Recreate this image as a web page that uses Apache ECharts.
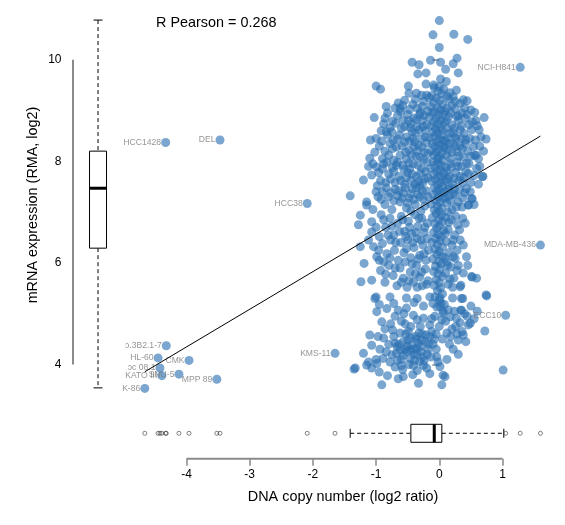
<!DOCTYPE html>
<html><head><meta charset="utf-8">
<script src="https://cdn.jsdelivr.net/npm/echarts@6/dist/echarts.min.js"></script>
<style>html,body{margin:0;padding:0;background:#fff}#c{width:565px;height:525px}</style>
</head><body><div id="c"></div>
<script>
// ---------- data ----------
const xTicks = [-4, -3, -2, -1, 0, 1];
const yTicks = [4, 6, 8, 10];
const xTitle = 'DNA copy number (log2 ratio)';
const yTitle = 'mRNA expression (RMA, log2)';
const pearsonR = 0.268;
const fitIntercept = 7.31;
const fitSlope = 0.741;
// boxplot stats: [lower whisker, Q1, median, Q3, upper whisker]
const expressionBox = [3.54, 6.29, 7.47, 8.20, 10.78];
const copyNumberBox = [-1.41, -0.45, -0.08, 0.04, 1.02];

const labeledNames = ['NCI-H841', 'HCC1428', 'DEL', 'HCC38', 'MDA-MB-436', 'ECC10', 'KMS-11',
  'ɔ.3B2.1-7', 'HL-60', 'CMK', 'ɔc 08.1', 'KATO III', 'SNU-5', 'MPP 89', 'K-86'];
const labeledCopy = [1.28, -4.33, -3.47, -2.09, 1.60, 1.05, -1.65,
  -4.32, -4.45, -3.96, -4.42, -4.39, -4.12, -3.52, -4.66];
const labeledExpr = [9.85, 8.37, 8.42, 7.17, 6.35, 4.97, 4.22,
  4.37, 4.13, 4.08, 3.93, 3.78, 3.81, 3.71, 3.53];

const topPoints = [[0.00,10.77],[-0.10,10.49],[0.23,10.50],[0.45,10.40],[0.00,10.24],[-0.43,9.95],[-0.32,9.90],[-0.14,9.99],[0.02,9.95],[0.22,9.92],[0.28,10.03],[0.10,9.81],[0.30,9.74],[-0.34,9.72],[-0.21,9.74],[-1.00,9.48],[-0.93,9.42],[-0.49,9.48],[0.02,9.62],[0.11,9.57],[-0.21,9.52],[-0.09,9.50],[0.27,9.40],[-0.48,9.34],[-0.36,9.34],[-0.28,9.30],[0.00,9.47],[0.07,9.42],[0.22,9.27],[0.38,9.21],[0.44,9.19],[-0.62,9.04]];

const columnPoints = [[-0.08,9.45],[-0.02,9.38],[0.04,9.33],[-0.12,9.29],[-0.05,9.24],[0.01,9.20],[-0.09,9.15],[0.05,9.12],[-0.14,9.08],[-0.03,9.06],[0.02,9.01],[-0.07,8.98],
[-0.11,8.95],[0.06,8.93],[-0.01,8.90],[-0.16,8.87],[-0.05,8.84],[0.03,8.81],[-0.09,8.78],[0.08,8.76],[-0.02,8.73],[-0.13,8.70],[0.01,8.67],[-0.06,8.64],[0.05,8.61],[-0.10,8.58],[-0.03,8.55],[0.03,8.52],
[-0.08,8.49],[-0.15,8.46],[0.00,8.44],[0.06,8.41],[-0.04,8.38],[-0.11,8.35],[0.02,8.32],[-0.07,8.29],[0.07,8.27],[-0.01,8.24],[-0.13,8.21],[-0.05,8.18],[0.04,8.15],[-0.09,8.12],[0.00,8.09],[-0.03,8.05],[0.05,8.02],
[-0.10,7.99],[-0.02,7.96],[0.03,7.92],[-0.07,7.89],[-0.14,7.86],[0.01,7.83],[-0.04,7.80],[0.07,7.77],[-0.09,7.74],[-0.01,7.71],[0.04,7.68],[-0.06,7.64],[-0.12,7.61],[0.02,7.58],[-0.03,7.54],[0.05,7.51],
[-0.08,7.48],[0.00,7.45],[-0.04,7.41],[0.03,7.37],[-0.10,7.34],[-0.02,7.30],[0.06,7.27],[-0.06,7.23],[0.01,7.19],[-0.13,7.16],[-0.03,7.12],[0.04,7.08],[-0.08,7.04],[0.00,7.01],
[-0.05,6.97],[0.03,6.93],[-0.11,6.89],[-0.01,6.85],[0.05,6.81],[-0.07,6.77],[0.00,6.73],[-0.04,6.68],[0.07,6.64],[-0.09,6.60],[-0.02,6.56],[0.03,6.52],
[-0.06,6.48],[0.01,6.44],[-0.12,6.40],[-0.03,6.36],[0.05,6.31],[-0.07,6.27],[0.00,6.22],[-0.04,6.17],[0.04,6.13],[-0.10,6.08],[-0.01,6.03],
[0.03,5.98],[-0.06,5.93],[0.01,5.88],[-0.09,5.83],[-0.02,5.78],[0.05,5.73],[-0.05,5.67],[0.00,5.61],[-0.08,5.56],[0.02,5.51],
[-0.03,5.45],[0.05,5.39],[-0.07,5.33],[0.00,5.27],[0.03,5.20],[-0.04,5.13],[0.06,5.05]];

const upperPoints = [[-0.61,8.98],[-0.74,8.79],[-0.57,8.81],[-0.40,8.85],[-0.30,8.96],[-0.18,8.99],[0.25,9.03],[0.50,9.01],[0.56,8.96],[0.71,8.86],[0.41,8.85],[-1.03,8.86],[-1.09,8.42],[-0.75,8.58],[-0.60,8.65],[-0.46,8.66],[-0.73,8.42],[-0.52,8.48],[0.33,8.62],[0.51,8.62],[0.63,8.62],[0.74,8.44],[0.27,8.45],[0.42,8.42],[0.54,8.29],[-1.10,8.06],[-0.99,7.89],[-1.07,7.73],[-1.20,7.63],[-1.41,7.32],[0.56,8.12],[0.43,7.96],[0.59,7.86],[0.69,7.70],[0.46,7.76],[0.51,7.27],[0.25,7.34],[-1.15,7.20],[-0.97,7.30],[0.58,8.12],[0.52,7.26],[0.68,7.70],
[-0.55,9.20],[-0.42,9.12],[-0.25,9.18],[0.15,9.22],[0.20,9.10],[0.33,9.14],[-0.35,9.05],[0.12,9.05],[-0.20,9.30],[0.17,9.35],[-0.65,9.15],[-0.84,9.08],
[-0.88,8.74],[-0.66,8.90],[-0.50,8.92],[-0.45,8.74],[-0.35,8.68],[-0.27,8.80],[-0.22,8.60],[0.15,8.88],[0.20,8.72],[0.30,8.80],[0.36,8.95],[0.12,8.65],[0.22,8.56],[0.47,8.72],[0.58,8.80],[-0.92,8.60],[-0.82,8.52],[-0.38,8.55],[-0.31,8.92],[0.09,8.98],[0.16,8.55],[-0.26,8.68],
[-0.95,8.30],[-0.86,8.20],[-0.78,8.35],[-0.68,8.28],[-0.62,8.12],[-0.55,8.38],[-0.48,8.22],[-0.42,8.45],[-0.37,8.10],[-0.33,8.32],[-0.28,8.45],[-0.24,8.18],[-0.20,8.36],[0.10,8.40],[0.14,8.22],[0.18,8.05],[0.22,8.34],[0.28,8.18],[0.33,8.30],[0.38,8.08],[0.45,8.20],[0.48,8.45],[0.64,8.30],[-0.90,8.05],[-1.02,8.18],[-0.72,8.02],[-0.52,8.05],[-0.40,8.28],[0.11,8.12],[0.25,8.48],[-0.25,8.03],[0.35,8.45],
[-0.93,7.62],[-0.88,7.95],[-0.80,7.75],[-0.74,7.88],[-0.70,7.58],[-0.64,7.70],[-0.58,7.92],[-0.55,7.55],[-0.50,7.78],[-0.45,7.62],[-0.41,7.95],[-0.36,7.70],[-0.31,7.52],[-0.28,7.86],[-0.23,7.65],[-0.19,7.98],[0.10,7.88],[0.13,7.66],[0.17,7.95],[0.21,7.55],[0.26,7.78],[0.31,7.62],[0.35,7.90],[0.39,7.68],[0.50,7.58],[0.62,7.55],[-1.12,7.90],[-0.98,7.52],[-0.66,7.98],[-0.47,7.85],[-0.33,7.60],[0.15,7.52],[0.28,7.98],[-0.85,7.58],
[-1.05,7.05],[-0.90,7.40],[-0.86,7.15],[-0.80,7.30],[-0.75,7.05],[-0.70,7.45],[-0.62,7.20],[-0.57,7.38],[-0.52,7.08],[-0.48,7.28],[-0.43,7.46],[-0.38,7.15],[-0.34,7.35],[-0.29,7.02],[-0.25,7.25],[-0.21,7.42],[0.09,7.40],[0.12,7.18],[0.16,7.32],[0.20,7.05],[0.24,7.46],[0.30,7.20],[0.36,7.10],[0.40,7.38],[0.46,7.14],[-0.66,7.32],[-0.45,7.02],[0.14,7.00]];

const upperExtra = [[-0.82,8.95],[-0.70,9.05],[-0.58,9.10],[-0.47,9.02],[-0.38,9.22],[-0.27,9.08],[-0.16,9.25],[0.12,9.28],[0.25,9.18],[0.30,8.90],[0.40,9.05],
[-0.86,8.85],[-0.78,8.66],[-0.69,8.75],[-0.63,8.52],[-0.55,8.68],[-0.49,8.80],[-0.43,8.58],[-0.36,8.82],[-0.32,8.62],[-0.24,8.90],[-0.20,8.72],[0.11,8.80],[0.18,8.95],[0.24,8.65],[0.28,8.88],[0.35,8.70],[0.39,8.55],[0.44,8.92],[0.52,8.78],[0.60,8.70],[0.66,8.48],
[-1.00,8.45],[-0.91,8.40],[-0.84,8.58],[-0.80,8.12],[-0.74,8.25],[-0.66,8.44],[-0.59,8.30],[-0.53,8.18],[-0.47,8.40],[-0.44,8.12],[-0.39,8.38],[-0.35,8.20],[-0.30,8.08],[-0.27,8.28],[-0.22,8.48],[-0.18,8.15],[0.09,8.28],[0.13,8.46],[0.16,8.35],[0.20,8.18],[0.26,8.30],[0.31,8.10],[0.36,8.25],[0.41,8.35],[0.50,8.10],[0.57,8.42],[0.62,8.05],[0.70,8.20],
[-1.05,7.95],[-0.96,7.78],[-0.90,7.85],[-0.83,7.98],[-0.77,7.65],[-0.72,7.80],[-0.68,7.92],[-0.61,7.62],[-0.56,7.84],[-0.52,7.68],[-0.48,7.96],[-0.43,7.75],[-0.39,7.55],[-0.34,7.92],[-0.30,7.76],[-0.26,7.58],[-0.22,7.80],[-0.18,7.68],[0.09,7.62],[0.12,7.80],[0.16,7.70],[0.19,7.88],[0.23,7.66],[0.29,7.90],[0.33,7.70],[0.37,7.58],[0.42,7.80],[0.47,7.95],[0.55,7.72],[0.64,7.90],
[-1.00,7.40],[-0.92,7.25],[-0.84,7.48],[-0.77,7.38],[-0.72,7.22],[-0.64,7.42],[-0.59,7.28],[-0.54,7.48],[-0.50,7.18],[-0.45,7.36],[-0.40,7.25],[-0.36,7.48],[-0.31,7.30],[-0.27,7.42],[-0.23,7.12],[-0.18,7.30],[0.10,7.28],[0.14,7.45],[0.18,7.22],[0.22,7.36],[0.27,7.10],[0.32,7.44],[0.37,7.28],[0.43,7.46],[0.49,7.40],[0.55,7.15]];

const middlePoints = [[-1.15,7.14],[-1.25,6.94],[-1.28,6.75],[-1.07,6.81],[-1.07,6.61],[-1.25,6.32],[-1.04,6.32],[-0.99,6.12],[-1.19,5.99],[-1.24,5.63],[-1.07,5.66],[-1.00,5.33],[0.46,7.14],[0.41,6.78],[0.33,6.45],[0.38,6.35],[0.43,6.12],[0.25,6.09],[0.51,5.73],[0.59,5.70],[0.33,5.53],[0.74,5.37],[0.52,5.72],[0.34,5.56],[0.35,5.30],[0.34,5.07],
[-0.92,6.95],[-0.85,6.70],[-0.78,6.88],[-0.72,6.55],[-0.66,6.78],[-0.60,6.92],[-0.55,6.62],[-0.49,6.82],[-0.44,6.58],[-0.39,6.95],[-0.34,6.72],[-0.28,6.88],[-0.24,6.60],[-0.19,6.78],[0.10,6.90],[0.14,6.66],[0.19,6.85],[0.24,6.55],[0.29,6.75],[-0.95,6.52],
[-0.90,6.38],[-0.83,6.18],[-0.77,6.45],[-0.71,6.25],[-0.65,6.05],[-0.61,6.40],[-0.56,6.20],[-0.50,6.45],[-0.45,6.10],[-0.40,6.30],[-0.35,6.48],[-0.31,6.15],[-0.26,6.35],[-0.21,6.05],[-0.17,6.25],[0.11,6.42],[0.15,6.20],[0.20,6.35],[0.28,6.25],[-0.88,6.02],[-0.52,6.28],[0.12,6.02],
[-0.93,5.85],[-0.86,5.62],[-0.80,5.95],[-0.73,5.75],[-0.67,5.55],[-0.62,5.90],[-0.57,5.70],[-0.51,5.52],[-0.46,5.82],[-0.41,5.62],[-0.36,5.95],[-0.31,5.72],[-0.27,5.55],[-0.22,5.88],[-0.18,5.65],[0.10,5.80],[0.14,5.58],[0.18,5.92],[0.23,5.70],[0.28,5.85],[-0.35,5.52],[0.21,5.52]];

const middleExtra = [[-1.12,6.45],[-1.00,6.70],[-0.96,6.25],[-0.88,6.85],[-0.81,6.55],[-0.75,6.72],[-0.69,6.40],[-0.63,6.62],[-0.58,6.85],[-0.53,6.52],[-0.47,6.70],[-0.42,6.40],[-0.37,6.60],[-0.32,6.88],[-0.29,6.45],[-0.23,6.70],[-0.19,6.48],[0.10,6.58],[0.15,6.80],[0.22,6.45],[0.26,6.92],[0.32,6.65],[0.37,6.88],
[-0.95,6.05],[-0.85,5.78],[-0.78,6.10],[-0.70,5.90],[-0.60,5.62],[-0.54,6.02],[-0.48,5.65],[-0.43,5.98],[-0.38,5.78],[-0.33,6.08],[-0.28,5.82],[-0.24,6.18],[-0.20,5.58],[0.09,6.10],[0.13,5.95],[0.17,5.68],[0.22,6.12],[0.30,5.95],[0.38,5.80],[0.45,5.95]];

const bottomPoints = [[-1.02,5.30],[-0.78,5.33],[-0.52,5.31],[-0.35,5.30],[-0.15,5.33],[0.01,5.31],[0.21,5.31],[0.37,5.30],[0.75,5.35],
[-0.99,5.04],[-0.91,4.84],[-0.65,5.07],[0.72,4.66],[-1.10,4.58],[-1.07,4.38],[-1.20,4.22],[-1.33,3.93],[1.01,3.89],[-0.91,3.60],[-0.57,3.76],[-0.33,3.63],[0.04,3.60],[0.09,3.76],[-1.35,3.91],
[-0.52,5.11],[-0.41,4.97],[-0.25,4.91],[-0.15,4.78],[0.01,5.14],[0.06,5.01],[0.17,4.94],[0.27,4.91],[0.35,5.07],[0.46,4.78],[0.38,4.58],[0.30,4.48],[0.49,4.81],[-1.15,3.99],[-1.07,3.93],[-0.99,4.02],[-0.89,4.12],[-0.75,4.19],[-0.67,4.35],[-0.57,4.45],[-0.52,4.25],[-0.46,4.12],[-0.36,4.32],[-0.31,4.06],[-0.20,3.93],[-0.04,4.15],[0.01,3.96],[0.06,3.79],
[-0.80,4.40],[-0.72,4.55],[-0.68,4.22],[-0.62,4.62],[-0.60,4.10],[-0.55,4.30],[-0.50,4.48],[-0.48,4.00],[-0.44,4.38],[-0.40,4.20],[-0.38,4.55],[-0.33,4.42],[-0.29,4.25],[-0.27,4.60],[-0.24,4.08],[-0.22,4.45],[-0.18,4.30],[-0.15,4.55],[-0.13,4.15],[-0.10,4.40],[-0.84,4.25],[-0.78,4.05],[-0.70,3.95],[-0.64,4.40],[-0.58,3.90],[-0.53,4.60],[-0.46,4.28],[-0.41,3.98],[-0.36,4.50],[-0.30,4.35],[-0.25,3.98],[-0.19,4.20],[-0.94,4.30],[-0.97,4.55],[-0.86,4.70],[-0.77,4.80],[-0.70,4.95],[-0.60,4.85],[-0.45,4.75],[-0.35,4.88],[-0.56,5.00],[-0.83,5.10],[-0.05,4.60],[0.00,4.75],[0.05,4.50],[0.10,4.85],[0.12,4.62],[0.16,4.40],[0.20,4.70],[0.24,5.05],[0.28,4.60],[0.33,4.82],[0.40,5.00],[0.42,4.45],[0.55,4.90],[0.60,5.05],[0.22,4.30],[-0.07,4.95],[0.08,5.18],[-0.25,5.15],[-0.10,5.20],[-1.00,4.10],[-1.12,4.05],[-0.95,3.85],[-0.82,3.78],[-0.65,3.72],[-0.42,3.80],[-0.15,3.82],[-0.05,4.30],[0.30,4.20]];

const bottomExtra = [[-0.88,4.52],[-0.74,4.68],[-0.66,4.08],[-0.62,4.28],[-0.57,4.18],[-0.51,4.36],[-0.49,4.65],[-0.45,4.52],[-0.42,4.30],[-0.39,4.08],[-0.35,4.20],[-0.32,4.62],[-0.28,4.48],[-0.26,4.15],[-0.21,4.58],[-0.17,4.40],[-0.12,4.65],[-0.08,4.50],[-0.70,4.42],[-0.54,4.80],[-0.30,4.75],[-0.12,4.90],[0.04,4.88],[0.14,5.08],[0.18,4.55],[0.26,4.75],[0.36,4.65],[0.44,4.95],[0.50,5.15],[-0.95,5.18],[-0.72,5.20],[-0.40,5.22],[-0.02,4.05],[0.12,4.10],[-0.60,3.98],[-0.35,3.88]];

// ---------- build ----------
const cloud = [].concat(topPoints, columnPoints, upperPoints, upperExtra, middlePoints, middleExtra, bottomPoints, bottomExtra);
const labeled = labeledNames.map((n, i) => ({ name: n, value: [labeledCopy[i], labeledExpr[i]] }));
const allX = cloud.map(p => p[0]).concat(labeledCopy);
const xMinData = Math.min(...allX), xMaxData = Math.max(...allX);
const fitLine = [[xMinData, fitIntercept + fitSlope * xMinData], [xMaxData, fitIntercept + fitSlope * xMaxData]];
const copyOutliers = allX.filter(v => v < copyNumberBox[0] || v > copyNumberBox[4]);

const FONT = "'Liberation Sans', Arial, Helvetica, sans-serif";
const dotColor = 'rgba(44,112,178,0.78)';
const axisGray = '#8a8a8a';
// layout positions (data units of the frame)
const yAxisLineX = -5.796, xAxisLineY = 2.146;
const exprBoxX = -5.40, copyBoxY = 2.646;

function vBox(params, api) {
  const s = expressionBox;
  const c = v => api.coord([exprBoxX, v]);
  const cx = c(s[2])[0], hw = 8.5, cap = 4.5;
  const lo = c(s[0])[1], q1 = c(s[1])[1], md = c(s[2])[1], q3 = c(s[3])[1], hi = c(s[4])[1];
  const solid = { stroke: '#000', lineWidth: 1 };
  const dash = { stroke: '#000', lineWidth: 1, lineDash: [4, 3] };
  return { type: 'group', children: [
    { type: 'line', shape: { x1: cx, y1: hi, x2: cx, y2: q3 }, style: dash },
    { type: 'line', shape: { x1: cx, y1: q1, x2: cx, y2: lo }, style: dash },
    { type: 'line', shape: { x1: cx - cap, y1: hi, x2: cx + cap, y2: hi }, style: solid },
    { type: 'line', shape: { x1: cx - cap, y1: lo, x2: cx + cap, y2: lo }, style: solid },
    { type: 'rect', shape: { x: cx - hw, y: q3, width: 2 * hw, height: q1 - q3 }, style: { fill: '#fff', stroke: '#000', lineWidth: 1 } },
    { type: 'line', shape: { x1: cx - hw, y1: md, x2: cx + hw, y2: md }, style: { stroke: '#000', lineWidth: 3 } }
  ]};
}
function hBox(params, api) {
  const s = copyNumberBox;
  const c = v => api.coord([v, copyBoxY]);
  const cy = c(s[2])[1], hh = 9, cap = 4.5;
  const lo = c(s[0])[0], q1 = c(s[1])[0], md = c(s[2])[0], q3 = c(s[3])[0], hi = c(s[4])[0];
  const solid = { stroke: '#000', lineWidth: 1 };
  const dash = { stroke: '#000', lineWidth: 1, lineDash: [4, 3] };
  return { type: 'group', children: [
    { type: 'line', shape: { x1: lo, y1: cy, x2: q1, y2: cy }, style: dash },
    { type: 'line', shape: { x1: q3, y1: cy, x2: hi, y2: cy }, style: dash },
    { type: 'line', shape: { x1: lo, y1: cy - cap, x2: lo, y2: cy + cap }, style: solid },
    { type: 'line', shape: { x1: hi, y1: cy - cap, x2: hi, y2: cy + cap }, style: solid },
    { type: 'rect', shape: { x: q1, y: cy - hh, width: q3 - q1, height: 2 * hh }, style: { fill: '#fff', stroke: '#000', lineWidth: 1 } },
    { type: 'line', shape: { x1: md, y1: cy - hh, x2: md, y2: cy + hh }, style: { stroke: '#000', lineWidth: 3 } }
  ]};
}

const chart = echarts.init(document.getElementById('c'), null, { renderer: 'canvas', devicePixelRatio: 1 });
chart.setOption({
  animation: false,
  backgroundColor: '#fff',
  textStyle: { fontFamily: FONT },
  grid: { left: 60.1, right: 5.6, top: 8.9, bottom: 58.9, containLabel: false },
  xAxis: {
    type: 'value', min: -6, max: 1.9, offset: -7.4,
    splitLine: { show: false }, axisLine: { show: false },
    axisTick: { show: true, customValues: xTicks, length: 7, lineStyle: { color: axisGray, width: 1.5 } },
    axisLabel: { customValues: xTicks, margin: 10, color: '#000', fontSize: 12, fontFamily: FONT }
  },
  yAxis: {
    type: 'value', min: 2, max: 11, offset: -12.9,
    splitLine: { show: false }, axisLine: { show: false },
    axisTick: { show: true, customValues: yTicks, length: 7, lineStyle: { color: axisGray, width: 1.5 } },
    axisLabel: { customValues: yTicks, margin: 11.5, color: '#000', fontSize: 12, fontFamily: FONT }
  },
  graphic: [
    { type: 'text', x: 156, y: 23, style: { text: 'R Pearson = ' + pearsonR, font: '14.4px ' + FONT, fill: '#000', textVerticalAlign: 'middle' } },
    { type: 'text', x: 343, y: 497, style: { text: xTitle, font: '14.4px ' + FONT, fill: '#000', textAlign: 'center', textVerticalAlign: 'middle' } },
    { type: 'text', x: 33, y: 205, rotation: Math.PI / 2, style: { text: yTitle, font: '14.4px ' + FONT, fill: '#000', textAlign: 'center', textVerticalAlign: 'middle' } }
  ],
  series: [
    { type: 'line', silent: true, symbol: 'none', data: [[yAxisLineX, yTicks[0]], [yAxisLineX, yTicks[yTicks.length - 1]]], lineStyle: { color: axisGray, width: 2 } },
    { type: 'line', silent: true, symbol: 'none', data: [[xTicks[0], xAxisLineY], [xTicks[xTicks.length - 1], xAxisLineY]], lineStyle: { color: axisGray, width: 2 } },
    { type: 'custom', renderItem: vBox, data: [[exprBoxX, expressionBox[2]]], silent: true },
    { type: 'custom', renderItem: hBox, data: [[copyNumberBox[2], copyBoxY]], silent: true },
    { type: 'scatter', data: copyOutliers.map(v => [v, copyBoxY]), symbol: 'circle', symbolSize: 4,
      itemStyle: { color: 'rgba(255,255,255,0)', borderColor: '#222', borderWidth: 0.7 }, silent: true, z: 4 },
    { type: 'scatter', data: cloud, symbolSize: 9, itemStyle: { color: dotColor }, silent: true },
    { type: 'scatter', data: labeled, symbolSize: 9, itemStyle: { color: dotColor }, silent: true,
      label: { show: true, position: 'left', distance: 0, formatter: '{b}', color: '#7a7a7a', fontSize: 8.6, fontFamily: FONT } },
    { type: 'line', silent: true, symbol: 'none', data: fitLine, lineStyle: { color: '#000', width: 1 }, z: 5 }
  ]
});
</script></body></html>
